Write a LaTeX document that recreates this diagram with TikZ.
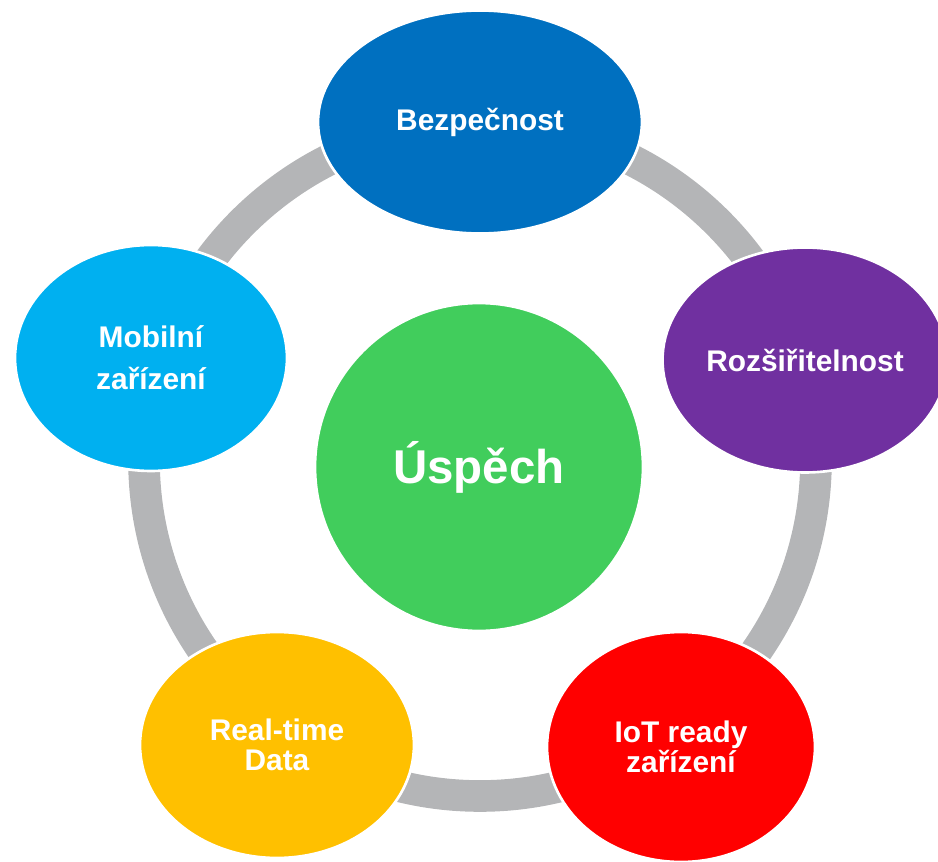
\documentclass[tikz,border=0pt]{standalone}
\usepackage{fontspec}
\setmainfont{Liberation Sans}
\usetikzlibrary{positioning,shapes.geometric}
\definecolor{secblue}{RGB}{0,112,192}
\definecolor{extpurple}{RGB}{112,48,160}
\definecolor{iotred}{RGB}{255,0,0}
\definecolor{rtorange}{RGB}{255,192,0}
\definecolor{mobcyan}{RGB}{0,176,240}
\definecolor{okgreen}{RGB}{65,205,92}
\definecolor{ringgray}{RGB}{180,181,183}

\begin{document}
\begin{tikzpicture}[x=0.02cm,y=-0.02cm]
    \tikzset{bubble/.style={ellipse,draw=white,line width=1.5pt,inner sep=0pt,
        text=white,align=center,font=\bfseries\fontsize{17}{24}\selectfont},
      tight/.style={font=\bfseries\fontsize{17}{17}\selectfont},
      ring/.style={draw=ringgray,line width=18pt}}
    \useasboundingbox (0,0) rectangle (938,862);
    \draw[ring] (480,460) circle[radius=336];
    \node[bubble,fill=secblue,minimum width=6.48cm,minimum height=4.46cm] (bez) at (480,122) {Bezpečnost};
    \node[bubble,fill=extpurple,minimum width=5.7cm,minimum height=4.5cm] (roz) at (805,360) {Rozšiřitelnost};
    \node[bubble,fill=iotred,minimum width=5.36cm,minimum height=4.6cm,tight] (iot) at (681,747) {IoT ready\\zařízení};
    \node[bubble,fill=rtorange,minimum width=5.48cm,minimum height=4.52cm,tight] (rtd) at (277,745) {Real-time\\Data};
    \node[bubble,fill=mobcyan,minimum width=5.44cm,minimum height=4.52cm] (mob) at (151,358) {Mobilní\\zařízení};
    \node[bubble,circle,fill=okgreen,minimum size=6.56cm,font=\bfseries\fontsize{27}{34}\selectfont] (usp) at (479,467) {Úspěch};
\end{tikzpicture}
\end{document}
